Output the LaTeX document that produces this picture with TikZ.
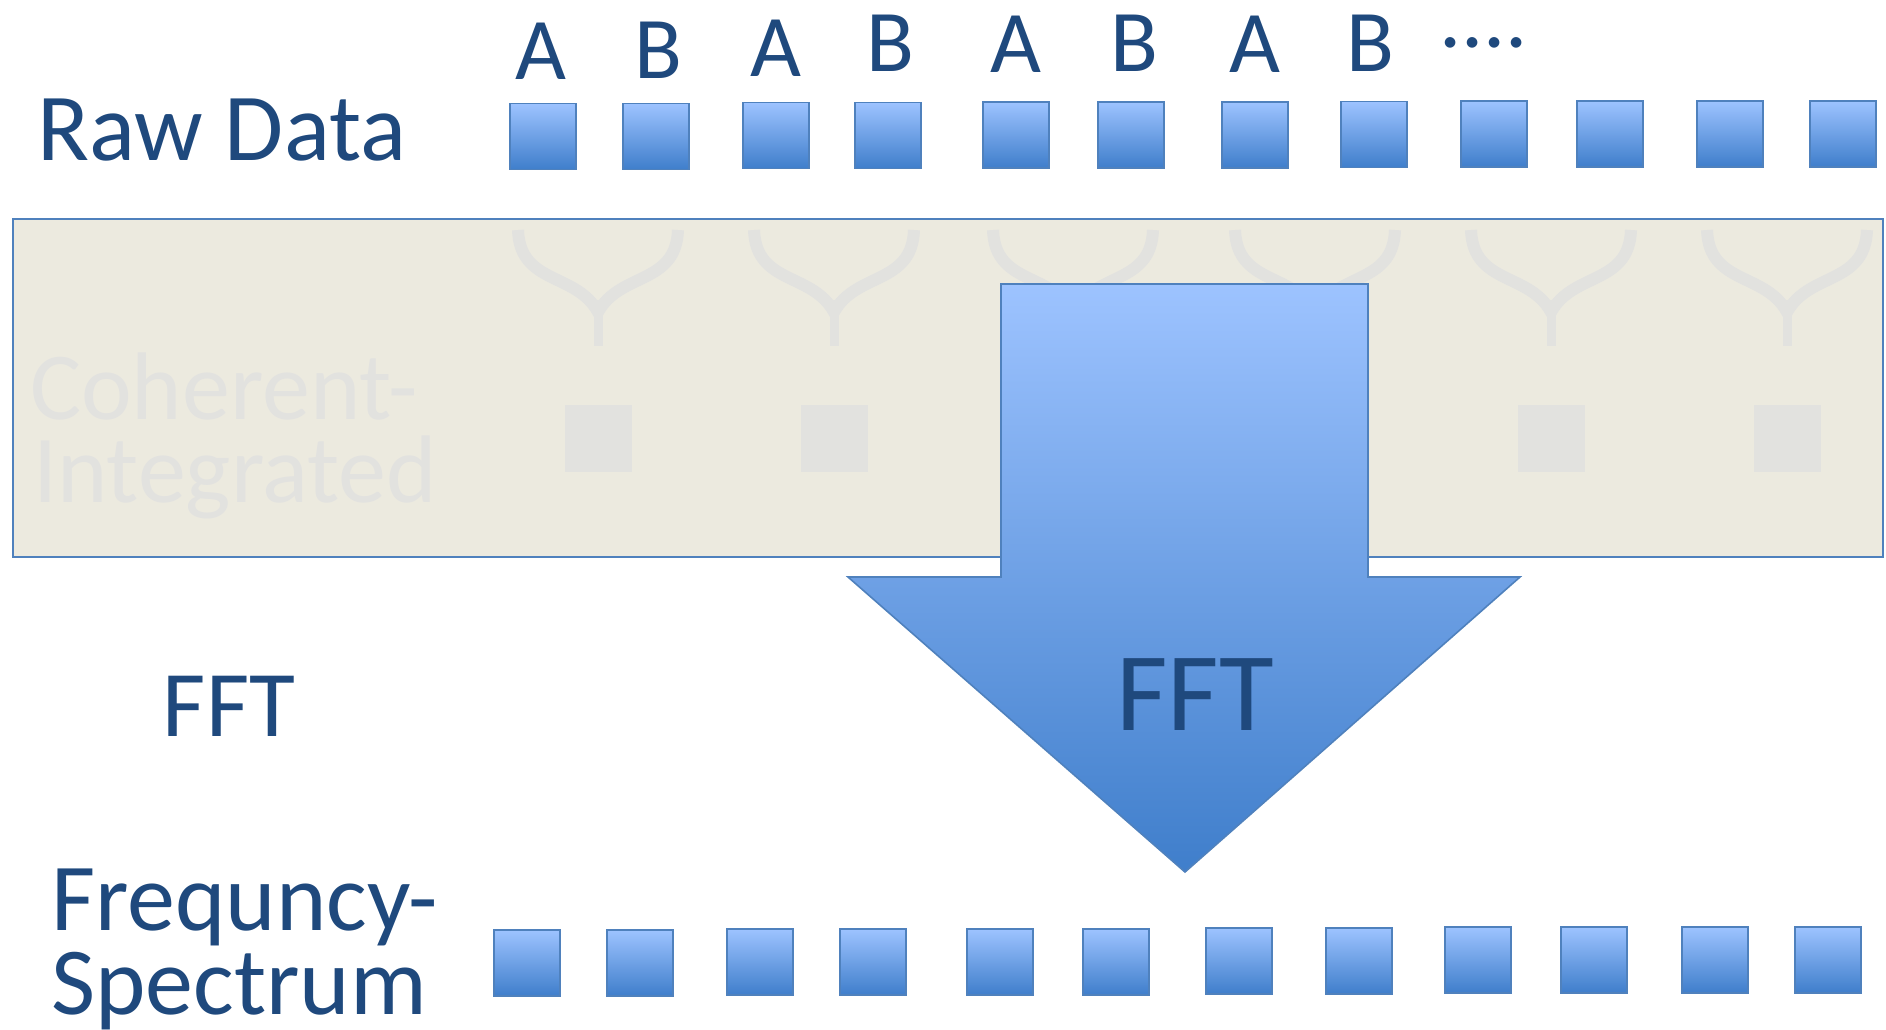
\documentclass[tikz,border=0pt]{standalone}
\usepackage{fontspec}
\setmainfont{Carlito}

\definecolor{txtblue}{HTML}{1F497D}
\definecolor{edgeblue}{HTML}{4F81BD}
\definecolor{cellhi}{HTML}{9DC3FF}
\definecolor{celllo}{HTML}{3F7ECB}
\definecolor{arrmid}{HTML}{76A3E8}
\definecolor{panelbg}{HTML}{ECEADF}
\definecolor{ghost}{HTML}{E2E2DF}

\tikzset{
  cell/.style={draw=edgeblue, line width=1.6pt, top color=cellhi, bottom color=celllo,
               minimum width=66pt, minimum height=66pt, inner sep=0pt},
  ghostcell/.style={fill=ghost, minimum width=67pt, minimum height=67pt, inner sep=0pt},
  bigtext/.style={text=txtblue, inner sep=0pt, font=\fontsize{96}{84}\selectfont},
  lettertext/.style={text=txtblue, inner sep=0pt, anchor=base, font=\fontsize{88}{90}\selectfont},
  ghosttext/.style={text=ghost, inner sep=0pt, anchor=base west, font=\fontsize{96}{84}\selectfont},
  forkarm/.style={draw=ghost, line width=12pt},
  forkstem/.style={draw=ghost, line width=9pt},
}

\begin{document}
\begin{tikzpicture}[x=1pt, y=-1pt]
  \useasboundingbox (0,0) rectangle (1886,1029);

  % shaded band behind the arrow
  \node[draw=edgeblue, line width=2.2pt, fill=panelbg, inner sep=0pt,
        minimum width=1870pt, minimum height=338pt, anchor=north west] (panel) at (12,218) {};

  % faint combiner forks and integrated cells inside the band
  \foreach \c [count=\i] in {598,834,1073,1315,1551,1787} {
    \draw[forkarm] (\c-80,230) .. controls (\c-78,285) and (\c-22,272) .. (\c,312)
                   .. controls (\c+22,272) and (\c+78,285) .. (\c+80,230);
    \draw[forkstem] (\c,300) -- (\c,346);
    \node[ghostcell] (int\i) at (\c,438) {};
  }
  \node[ghosttext] (coh) at (30,419) {Coherent-};
  \node[ghosttext] (integ) at (33,502) {Integrated};

  % raw data row
  \node[bigtext, anchor=base west] (raw) at (37,160) {Raw Data};
  \foreach \x/\y [count=\i] in {543/136.5,656/136.5,776/135.5,888/135.5,1016/135,1131/135,
                                1255/135,1374/134.5,1494/134,1610/134,1730/134,1843/134} {
    \node[cell] (r\i) at (\x,\y) {};
  }
  \foreach \ch/\x/\y [count=\i] in {A/541/79,B/658/78,A/776/76,B/890/71,
                                    A/1016/72,B/1134/71,A/1255/72,B/1370/71} {
    \node[lettertext] (ab\i) at (\x,\y) {\ch};
  }
  \node[lettertext, anchor=base west] (more) at (1439,47) {....};

  % FFT arrow
  \path[draw=edgeblue, line width=1.6pt, top color=cellhi, middle color=arrmid, bottom color=celllo]
    (1001,284) -- (1368,284) -- (1368,577) -- (1520,577) -- (1185,872)
    -- (848,577) -- (1001,577) -- cycle;
  \node[text=txtblue, inner sep=0pt, anchor=base, font=\fontsize{112}{112}\selectfont]
    (fftin) at (1195,730) {FFT};
  \node[bigtext, anchor=base, font=\fontsize{94}{94}\selectfont] (fftleft) at (229,736) {FFT};

  % frequency spectrum row
  \node[bigtext, anchor=base west] (spec1) at (51,930) {Frequncy-};
  \node[bigtext, anchor=base west] (spec2) at (51,1014) {Spectrum};
  \foreach \x/\y [count=\i] in {527/963,640/963,760/962,873/962,1000/962,1116/962,
                                1239/961,1359/961,1478/960,1594/960,1715/960,1828/960} {
    \node[cell] (f\i) at (\x,\y) {};
  }
\end{tikzpicture}
\end{document}
